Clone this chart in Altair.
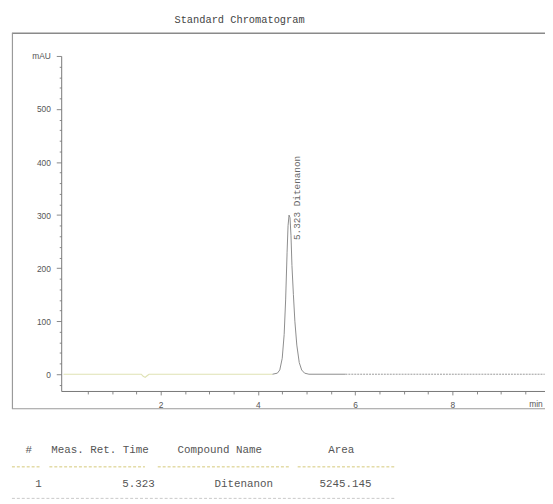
import altair as alt
import pandas as pd

# ---------------- data ----------------
title_text = "Standard Chromatogram"

time_min = [0.00, 1.00, 1.60, 1.64, 1.68, 1.72, 1.76, 3.00, 4.30, 4.40, 4.45, 4.50,
            4.54, 4.57, 4.60, 4.62, 4.64, 4.66, 4.68, 4.70, 4.73, 4.76, 4.80, 4.85,
            4.90, 4.96, 5.05, 5.80, 7.00, 9.90]
absorbance = [0, 0, 0, -4, -6, -3, 0, 0, 0, 2, 8, 30,
              75, 140, 230, 280, 300, 295, 262, 205, 150, 100, 55, 22,
              8, 2, 0, 0, 0, 0]

peak_label = ["5.323  Ditenanon"]
peak_label_time = [4.80]
peak_label_level = [253]

y_major = [0, 100, 200, 300, 400, 500, 600]
y_minor = [-20, 20, 40, 60, 80, 120, 140, 160, 180, 220, 240, 260, 280, 320, 340,
           360, 380, 420, 440, 460, 480, 520, 540, 560, 580]
y_unit = "mAU"
x_major = [2, 4, 6, 8]
x_minor = [0.5, 1, 1.5, 2.5, 3, 3.5, 4.5, 5, 5.5, 6.5, 7, 7.5, 8.5, 9, 9.5]
x_unit = "min"

table_headers = ["#", "Meas. Ret. Time", "Compound Name", "Area"]
table_row = ["1", "5.323", "Ditenanon", "5245.145"]

# ---------------- styling / layout ----------------
MONO = "Liberation Mono"
SANS = "Liberation Sans"
TXT = "#555555"

trace = pd.DataFrame({"time": time_min, "abs": absorbance})
pre = trace[trace["time"] <= 4.30]
peak = trace[(trace["time"] >= 4.30) & (trace["time"] <= 5.80)]
post = trace[trace["time"] >= 5.80]

xs = alt.Scale(domain=[-0.047, 9.906], nice=False, zero=False)
ys = alt.Scale(domain=[-31.6, 600], nice=False, zero=False)

x_axis = alt.Axis(
    values=sorted(x_major + x_minor), title=None, grid=False,
    labelExpr="indexof([2,4,6,8], datum.value) >= 0 ? format(datum.value, 'd') : ''",
    tickSize={"condition": {"test": "datum.value % 2 === 0", "value": 4}, "value": 3},
    labelPadding=6, labelFont=SANS, labelFontSize=8.5, labelColor=TXT,
    domainColor="#777777", tickColor="#888888", labelFlush=False,
)
y_axis = alt.Axis(
    values=sorted(y_major + y_minor), title=None, grid=False,
    labelExpr="datum.value == 600 ? '" + y_unit + "' : (datum.value % 100 === 0 ? format(datum.value, 'd') : '')",
    tickSize={"condition": {"test": "datum.value % 100 === 0", "value": 5}, "value": 2},
    labelPadding=6, labelFont=SANS, labelFontSize=8.5, labelColor=TXT,
    domainColor="#777777", tickColor="#888888", labelFlush=False,
)

X = alt.X("time:Q", scale=xs, axis=x_axis)
Y = alt.Y("abs:Q", scale=ys, axis=y_axis)

l_pre = alt.Chart(pre).mark_line(color="#dfe2b4", strokeWidth=1.2).encode(x=X, y=Y)
l_peak = alt.Chart(peak).mark_line(color="#8c8c8c", strokeWidth=1).encode(x=X, y=Y)
l_post = alt.Chart(post).mark_line(color="#9a9a9a", strokeWidth=1, strokeDash=[2, 1]).encode(x=X, y=Y)

ann = pd.DataFrame({"time": peak_label_time, "abs": peak_label_level, "t": peak_label})
l_ann = alt.Chart(ann).mark_text(angle=270, align="left", baseline="middle", font=MONO,
                                 fontSize=9.5, color="#666666").encode(x=X, y=Y, text="t:N")


def text_at(t, x, y, align="left", size=11, font=MONO, color=TXT):
    return alt.Chart(pd.DataFrame({"t": [t]})).mark_text(
        align=align, baseline="middle", font=font, fontSize=size, color=color
    ).encode(x=alt.value(x), y=alt.value(y), text="t:N")


def hline(x1, x2, y, color, width=1.0, dash=None):
    kw = dict(color=color, strokeWidth=width)
    if dash:
        kw["strokeDash"] = dash
    return alt.Chart(pd.DataFrame({"k": [0]})).mark_rule(**kw).encode(
        x=alt.value(x1), x2=alt.value(x2), y=alt.value(y))


def vline(x, y1, y2, color, width=1.0):
    return alt.Chart(pd.DataFrame({"k": [0]})).mark_rule(color=color, strokeWidth=width).encode(
        x=alt.value(x), y=alt.value(y1), y2=alt.value(y2))


frame = [
    hline(-50, 491, -23, "#8a8a8a", 1.5),
    vline(-49.5, -23, 358, "#9a9a9a", 1.2),
    hline(-50, 491, 358, "#9a9a9a", 1.2),
]

texts = [
    text_at(title_text, 181, -36, align="center", size=10.5, color="#444444"),
    text_at(x_unit, 475, 353, size=8.5, font=SANS),
    text_at(table_headers[0], -33, 400, align="center"),
    text_at(table_headers[1], -10, 400),
    text_at(table_headers[2], 118, 400),
    text_at(table_headers[3], 271, 400),
    text_at(table_row[0], -23, 434, align="center"),
    text_at(table_row[1], 95, 434, align="right"),
    text_at(table_row[2], 215, 434, align="right"),
    text_at(table_row[3], 315, 434, align="right"),
]

dash_col = "#d4c878"
dashes = [
    hline(-50, -20, 417, dash_col, 1, [3, 2]),
    hline(-12, 85, 417, dash_col, 1, [3, 2]),
    hline(98, 231, 417, dash_col, 1, [3, 2]),
    hline(240, 338, 417, dash_col, 1, [3, 2]),
    hline(-50, 338, 449, "#c8c8c8", 1, [3, 2]),
]

chart = alt.layer(l_pre, l_peak, l_post, l_ann, *frame, *texts, *dashes).properties(
    width=491, height=340,
    padding={"left": 54, "top": 45, "right": 0, "bottom": 110},
    autosize=alt.AutoSizeParams(type="none"),
    background="white",
).configure_view(strokeWidth=0)

chart.save("out.html", embed_options={"renderer": "svg", "actions": False})
